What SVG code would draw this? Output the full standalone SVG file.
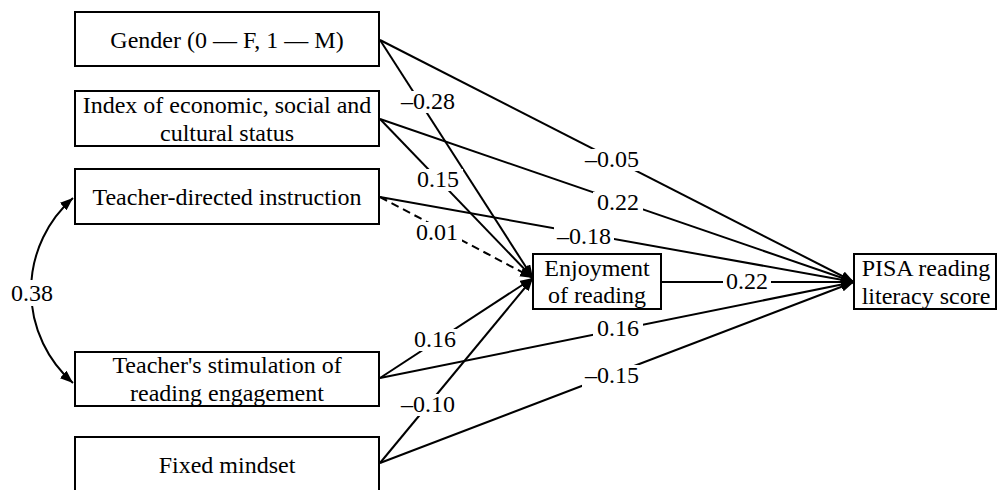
<svg xmlns="http://www.w3.org/2000/svg" width="997" height="490" viewBox="0 0 997 490">
<style>
.box{fill:#fff;stroke:#000;stroke-width:2}
.t{font-family:"Liberation Serif","Times New Roman",serif;font-size:24px;fill:#000;text-anchor:middle}
.ln{fill:none;stroke:#000;stroke-width:2}
.dash{stroke-dasharray:8 5}
.bg{fill:#fff}
</style>
<defs>
<marker id="ah" markerUnits="userSpaceOnUse" markerWidth="13" markerHeight="10" refX="13" refY="5" orient="auto-start-reverse">
<path d="M0,0 L13,5 L0,10 z" fill="#000"/>
</marker>
</defs>
<rect width="997" height="490" fill="#fff"/>
<g id="connectors">
<path class="ln" d="M73,198 A123,123 0 0 0 73,383" marker-start="url(#ah)" marker-end="url(#ah)"/>
<line class="ln" x1="380" y1="40" x2="533" y2="278" marker-end="url(#ah)"/>
<line class="ln" x1="380" y1="40" x2="854" y2="282" marker-end="url(#ah)"/>
<line class="ln" x1="380" y1="119" x2="533" y2="278" marker-end="url(#ah)"/>
<line class="ln" x1="380" y1="119" x2="854" y2="282" marker-end="url(#ah)"/>
<line class="ln dash" x1="380" y1="197" x2="533" y2="278" marker-end="url(#ah)"/>
<line class="ln" x1="380" y1="197" x2="854" y2="282" marker-end="url(#ah)"/>
<line class="ln" x1="380" y1="378" x2="533" y2="278" marker-end="url(#ah)"/>
<line class="ln" x1="380" y1="378" x2="854" y2="282" marker-end="url(#ah)"/>
<line class="ln" x1="380" y1="463" x2="533" y2="278" marker-end="url(#ah)"/>
<line class="ln" x1="380" y1="463" x2="854" y2="282" marker-end="url(#ah)"/>
<line class="ln" x1="661" y1="282" x2="854" y2="282" marker-end="url(#ah)"/>
<g id="labels">
<rect class="bg" x="398" y="91" width="60" height="22"/><text class="t" x="428" y="109">–0.28</text>
<rect class="bg" x="582" y="149" width="60" height="22"/><text class="t" x="612" y="167">–0.05</text>
<rect class="bg" x="413" y="169" width="50" height="22"/><text class="t" x="438" y="187">0.15</text>
<rect class="bg" x="593" y="192" width="50" height="22"/><text class="t" x="618" y="210">0.22</text>
<rect class="bg" x="412" y="222" width="50" height="22"/><text class="t" x="437" y="240">0.01</text>
<rect class="bg" x="554" y="226" width="60" height="22"/><text class="t" x="584" y="244">–0.18</text>
<rect class="bg" x="410" y="329" width="50" height="22"/><text class="t" x="435" y="347">0.16</text>
<rect class="bg" x="593" y="318" width="50" height="22"/><text class="t" x="618" y="336">0.16</text>
<rect class="bg" x="398" y="394" width="60" height="22"/><text class="t" x="428" y="412">–0.10</text>
<rect class="bg" x="582" y="365" width="60" height="22"/><text class="t" x="612" y="383">–0.15</text>
<rect class="bg" x="723" y="271" width="48" height="22"/><text class="t" x="747" y="289">0.22</text>
<rect class="bg" x="7" y="280" width="50" height="26"/><text class="t" x="32" y="301">0.38</text>
</g>
</g>
<g id="gender"><rect class="box" x="75" y="12" width="304" height="54"/><text class="t" x="227" y="48">Gender (0 — F, 1 — M)</text></g>
<g id="escs"><rect class="box" x="75" y="91" width="304" height="55"/><text class="t" x="227" y="113">Index of economic, social and</text><text class="t" x="227" y="141">cultural status</text></g>
<g id="tdi"><rect class="box" x="75" y="169" width="304" height="55"/><text class="t" x="227" y="205">Teacher-directed instruction</text></g>
<g id="stim"><rect class="box" x="75" y="352" width="304" height="54"/><text class="t" x="227" y="373">Teacher's stimulation of</text><text class="t" x="227" y="401">reading engagement</text></g>
<g id="fixed"><rect class="box" x="75" y="437" width="304" height="55"/><text class="t" x="227" y="473">Fixed mindset</text></g>
<g id="enjoy"><rect class="box" x="533" y="254" width="128" height="55"/><text class="t" x="597" y="276">Enjoyment</text><text class="t" x="597" y="303">of reading</text></g>
<g id="pisa"><rect class="box" x="854" y="254" width="142" height="55"/><text class="t" x="926" y="276">PISA reading</text><text class="t" x="926" y="304">literacy score</text></g>
</svg>
